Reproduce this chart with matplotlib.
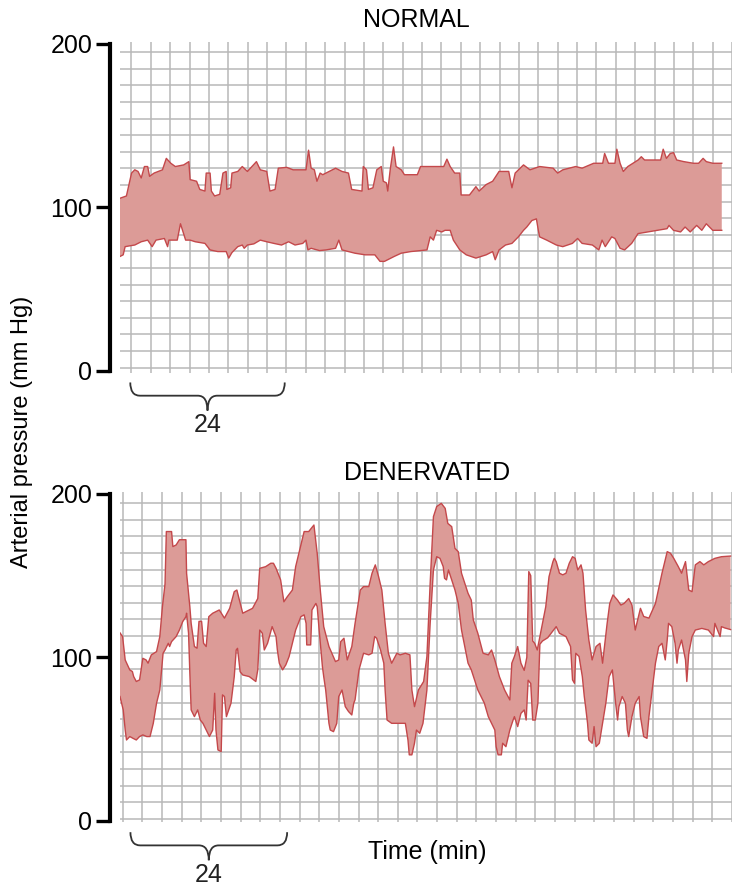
import numpy as np
import matplotlib
matplotlib.use("Agg")
import matplotlib.pyplot as plt
from matplotlib.path import Path
from matplotlib.patches import PathPatch
from matplotlib.transforms import blended_transform_factory

plt.rcParams["font.family"] = ["Liberation Sans", "DejaVu Sans"]

# --- traced envelopes (time in min, pressure in mm Hg) ---------------
normal_up_t = [0.0, 1.0, 1.8, 2.3, 2.8, 3.3, 3.8, 4.3, 4.6, 5.3, 6.6, 7.2, 7.9, 8.6, 9.9, 10.7,
               10.9, 11.9, 12.4, 13.2, 13.4, 14.0, 14.2, 14.7, 15.5, 16.0, 16.5, 16.6, 17.2, 17.4,
               18.3, 19.0, 19.8, 21.2, 21.8, 22.8, 23.3, 24.1, 24.6, 25.9, 26.9, 28.9, 29.3, 29.7,
               30.2, 30.6, 31.1, 31.5, 33.5, 34.5, 35.5, 36.0, 37.6, 37.8, 38.3, 38.6, 39.3, 39.9,
               40.6, 40.9, 41.4, 41.6, 42.0, 42.5, 42.9, 43.7, 44.2, 46.2, 46.7, 48.2, 50.3, 50.8,
               51.3, 52.0, 52.8, 53.0, 54.3, 55.3, 55.8, 56.9, 57.9, 58.9, 60.4, 60.9, 61.4, 62.7,
               63.7, 65.2, 67.3, 68.0, 68.8, 70.8, 71.8, 73.6, 75.0, 75.3, 75.9, 76.9, 77.2, 77.7,
               78.2, 78.9, 79.7, 80.5, 81.0, 81.5, 83.0, 84.0, 84.4, 84.9, 85.5, 86.0, 86.5, 87.6,
               89.1, 89.9, 90.6, 91.1, 92.1, 93.5]
normal_up_p = [105.6, 107, 121, 123, 122, 118, 125, 125, 119, 121, 123, 130, 127, 125, 126, 128,
               117, 116, 111, 110, 121, 121, 110, 107, 108, 121, 122, 111, 112, 121,
               122, 125, 122, 128, 123, 122, 110, 111, 124, 124.5, 123, 123, 135, 124,
               123, 116, 121, 120, 124, 122, 121, 111, 110, 125, 123, 111, 112, 123,
               125, 116, 115, 110, 123.5, 137, 125, 123, 120, 120, 125, 125, 125, 129.5,
               125, 121, 121, 107.6, 107.6, 112.7, 110, 114, 116, 122, 122, 112, 121, 126,
               123, 125, 124, 121, 123, 125, 124, 127, 127, 133, 127, 127, 135.6, 127,
               122, 125, 127, 129, 131, 129, 129, 129, 135.6, 130, 133, 133.5, 129, 128,
               127, 127, 130, 128, 127, 127]

normal_lo_t = [0.0, 0.5, 0.8, 1.5, 2.3, 3.3, 4.3, 5.0, 5.6, 6.9, 7.4, 7.6, 8.9, 9.4, 10.2, 10.9,
               11.7, 13.2, 14.0, 15.2, 16.5, 16.9, 17.4, 18.3, 19.0, 19.3, 19.8, 20.8, 21.8, 22.8,
               23.9, 25.1, 26.2, 27.2, 28.4, 28.9, 29.2, 29.7, 31.0, 32.0, 33.5, 34.0, 34.5, 36.5,
               38.1, 39.6, 40.4, 41.1, 42.6, 43.7, 45.2, 47.7, 48.2, 48.7, 49.2, 50.0, 50.5, 51.3,
               51.8, 52.8, 53.8, 55.3, 56.9, 57.9, 58.3, 58.9, 59.9, 60.9, 61.9, 62.7, 63.2, 64.0,
               64.7, 65.0, 65.2, 66.3, 67.8, 68.8, 70.3, 71.1, 71.8, 73.4, 74.4, 74.9, 75.4, 76.4,
               76.9, 77.7, 78.4, 79.5, 80.5, 82.0, 83.5, 85.0, 85.3, 86.0, 87.1, 87.8, 88.6, 89.6,
               90.4, 91.1, 92.1, 93.5]
normal_lo_p = [70, 71, 76, 76.5, 77, 79, 80, 76, 80, 81, 76, 80, 80, 90, 80, 80,
               79, 78, 74, 73, 73, 69, 72.4, 76, 77, 75, 77, 77.7, 80, 79,
               78, 77, 79, 77, 78, 80, 74, 75, 73.6, 74, 75, 80, 74, 72,
               71, 71, 67, 67, 70, 72, 73, 74, 82, 80, 86, 85, 86, 86,
               80, 74, 71, 69, 71, 73, 68, 74, 77, 78, 82, 86, 88, 92,
               93, 86, 82, 80, 77, 76, 78, 81, 78, 77, 74, 80, 76, 82,
               81, 75, 74, 78, 84, 85, 86, 87, 89, 86, 85, 88, 85, 89,
               86, 90, 86, 86]

denerv_up_t = [0.0, 0.4, 0.8, 1.5, 1.9, 2.1, 2.5, 3.0, 3.5, 4.0, 4.3, 4.8, 5.6, 6.1, 6.5, 6.9,
               7.1, 7.9, 8.1, 8.6, 9.1, 10.1, 10.2, 10.7, 10.9, 11.4, 11.8, 12.1, 12.5, 12.8,
               13.2, 13.6, 14.2, 15.2, 16.0, 16.8, 17.5, 17.9, 18.3, 18.8, 19.3, 20.3, 21.1, 21.4,
               22.3, 23.1, 23.5, 23.9, 24.6, 25.1, 25.6, 26.4, 26.9, 27.7, 28.2, 28.9, 29.7, 30.2,
               30.7, 31.2, 32.0, 33.0, 33.5, 33.8, 34.3, 34.8, 35.5, 36.0, 36.8, 37.3, 38.1, 38.6,
               39.1, 39.6, 40.1, 40.6, 41.1, 41.6, 42.4, 42.9, 43.7, 44.4, 44.7, 45.1, 45.7, 46.5,
               47.0, 47.5, 48.0, 48.5, 49.2, 49.8, 50.2, 50.8, 51.3, 51.8, 52.3, 53.3, 53.8, 54.1,
               54.8, 55.6, 56.4, 56.9, 57.4, 58.1, 58.9, 59.7, 60.0, 60.4, 60.9, 61.4, 61.9, 62.3,
               62.6, 62.9, 63.2, 63.5, 63.9, 64.3, 64.7, 65.2, 65.7, 66.3, 66.5, 66.8, 67.3, 67.8,
               68.3, 68.8, 69.3, 69.7, 70.1, 70.6, 70.9, 71.3, 71.8, 72.3, 72.9, 73.5, 73.9, 74.6,
               75.0, 75.5, 76.2, 76.7, 77.2, 77.9, 78.4, 78.9, 79.7, 80.2, 81.0, 82.0, 83.0, 83.8,
               84.3, 84.8, 85.5, 86.0, 86.6, 87.1, 87.6, 88.1, 88.8, 89.4, 90.1, 91.1, 92.1, 93.5]
denerv_up_p = [115, 112.7, 98.4, 92.3, 91.3, 88.2, 85.2, 86.2, 99.4, 98.4, 96.4, 101.5, 103.5, 112.7, 131, 145,
               177, 177, 167.8, 168.8, 172, 172, 151.5, 131, 120.8, 106.6, 105.6, 122, 122, 108.6,
               106.6, 124.9, 127, 129, 124, 130, 140.2, 141.2, 135, 127, 128, 130, 136, 154.5,
               155.5, 157.6, 157.6, 154.5, 147.4, 134, 137, 141.2, 155.5, 168.8, 177, 177, 181, 163.7,
               140, 118.8, 106.6, 97.4, 98.4, 109.6, 111.7, 98.4, 106.6, 120.8, 141.2, 143.3, 143.3, 151.5,
               156.6, 149.4, 141.2, 120.8, 102.5, 96.4, 102.5, 101.5, 102.5, 101.5, 80, 69.8, 80, 85.2,
               100.5, 145.3, 186.1, 192.3, 194.3, 191.2, 182, 180, 166.7, 164.7, 151.5, 139.2, 135, 123,
               114.7, 102.5, 101.5, 104.5, 98.4, 88.2, 80, 73.9, 96.4, 100.5, 106.6, 96.4, 92, 100,
               152.5, 150, 110, 108.6, 104.5, 112.7, 120.8, 131, 149.4, 158.6, 160.6, 158.6, 151.5, 150.5,
               151.5, 157.6, 161.6, 160.6, 153.5, 156.6, 151.5, 129, 110.6, 98.4, 106.6, 108.6, 96.4, 120.8,
               133, 138.2, 135, 132, 133, 136, 132, 116.7, 130, 125, 124, 133, 151.5, 164.7,
               163.7, 160.6, 155.5, 151.5, 158.6, 141.2, 140.2, 156.6, 158.6, 156.6, 158.6, 160.6, 161.6, 162]

denerv_lo_t = [0.0, 0.5, 0.8, 1.0, 1.5, 2.0, 2.5, 3.0, 3.5, 4.1, 4.6, 5.1, 5.6, 6.1, 6.6, 6.9,
               7.4, 7.6, 7.9, 8.6, 9.1, 9.6, 10.1, 10.2, 10.5, 10.7, 10.9, 11.4, 11.9, 12.3,
               12.7, 13.2, 13.7, 14.2, 14.5, 14.7, 15.0, 15.5, 15.7, 16.0, 16.3, 17.0, 17.5, 17.8,
               18.0, 18.4, 18.8, 19.8, 20.8, 21.1, 21.4, 21.8, 22.1, 22.6, 23.3, 23.9, 24.1, 24.4,
               24.9, 25.4, 25.9, 26.4, 26.9, 27.7, 28.2, 28.5, 28.6, 29.2, 29.4, 30.0, 30.2, 30.5,
               31.0, 31.2, 31.5, 32.0, 32.2, 32.7, 33.2, 33.5, 34.0, 34.5, 35.0, 35.5, 35.8, 36.0,
               36.6, 37.3, 38.1, 38.6, 39.0, 39.3, 39.9, 40.4, 40.6, 40.9, 41.6, 42.6, 43.7, 44.1,
               44.3, 44.7, 45.1, 45.4, 45.9, 46.4, 47.0, 47.5, 48.0, 48.5, 49.0, 49.5, 49.7, 50.0,
               50.3, 50.8, 51.3, 51.8, 52.3, 52.8, 53.3, 53.8, 54.3, 54.8, 55.3, 55.8, 56.4, 56.9,
               57.4, 57.6, 57.9, 58.4, 58.6, 59.1, 59.7, 60.2, 60.4, 60.9, 61.4, 61.9, 62.2, 62.5,
               62.9, 63.2, 63.6, 64.0, 64.3, 64.7, 65.5, 66.8, 67.3, 68.3, 69.0, 69.3, 69.6, 69.8,
               70.3, 70.8, 71.1, 71.3, 71.6, 71.8, 72.3, 72.6, 72.9, 73.4, 73.9, 74.4, 74.9, 75.4,
               75.9, 76.2, 76.4, 76.9, 77.4, 77.7, 77.9, 78.4, 78.9, 79.5, 79.7, 80.2, 80.7, 81.0,
               81.5, 82.0, 82.5, 83.0, 83.5, 83.8, 84.0, 84.5, 85.0, 85.3, 85.5, 86.0, 86.6, 86.8,
               87.1, 87.6, 88.1, 89.1, 90.1, 90.9, 91.1, 91.9, 92.1, 92.6, 93.5]
denerv_lo_p = [76, 67.8, 55.5, 49.4, 51.5, 50.4, 49.4, 51.5, 52.5, 51.5, 51.5, 59.6, 71.9, 80, 102.5, 104.5,
               108.6, 106.6, 109.6, 112.7, 116.7, 121.8, 124.9, 127, 114.7, 90.2, 67.8, 63.7, 67.8, 61.6,
               59.6, 55.5, 51.5, 55.5, 78, 55.5, 43.3, 42.3, 77, 76, 63.7, 71.9, 88.2, 104.5,
               105.5, 91.2, 89.2, 88.2, 85.2, 92.3, 116.7, 114.7, 104.5, 108.6, 118.8, 112.7, 104.5, 96.4,
               92.3, 95.4, 100.5, 108.6, 116.7, 124.9, 126, 120.8, 107.6, 107.6, 129, 133, 131, 116.7,
               94.3, 88.2, 80, 59.6, 55.5, 54.5, 59.6, 76, 80, 69.8, 66.8, 64.7, 71.9, 74,
               92.3, 102.5, 101.5, 102.5, 112.7, 111.7, 104.5, 96.4, 80, 61.6, 59.6, 59.6, 59.6, 49.4,
               40.3, 40.3, 47.4, 55.5, 53.5, 59.6, 80, 120.8, 153.5, 161.6, 160.6, 155.5, 148.4, 147.4,
               153.5, 147.4, 141.2, 133, 116.7, 106.6, 96.4, 92.3, 86.2, 80, 76, 71.9, 63.7, 59.6,
               55.5, 45.3, 40.3, 40.3, 47.4, 45.3, 55.5, 61.6, 63.7, 57.6, 65.7, 67.8, 61.6, 86,
               84, 61.6, 61.6, 72, 108, 110, 112, 118.8, 114.7, 112.7, 106.6, 86.2, 84.1, 102.5,
               100.5, 88.2, 76, 69.8, 59.6, 49.4, 47.4, 57.6, 45.3, 47.4, 59.6, 71.9, 88.2, 92.3,
               71.9, 61.6, 69.8, 76, 71.9, 55.5, 51.5, 63.7, 71.9, 76, 63.7, 51.5, 50.4, 63.7,
               80, 96.4, 106.6, 108.6, 98.4, 110.6, 120.8, 118.8, 108.6, 96.4, 104.5, 110.6, 98.4, 85.2,
               102.5, 112.7, 116.7, 117.7, 116.7, 112.7, 120.8, 112.7, 118.8, 118, 117]

FILL = "#dc9b97"
EDGE = "#c4484b"
GRID = "#b8b8b8"
T_MAX = 93.0
CELL = 3.01


def brace(ax, x0, width, label):
    # curly brace under the axis, x in minutes, y in axes fraction
    tr = blended_transform_factory(ax.transData, ax.transAxes)
    x1 = x0 + width
    xm = x0 + width / 2
    r = 1.5
    ye, yl, yt = -0.03, -0.07, -0.115
    verts = [(x0, ye), (x0, yl), (x0 + r, yl), (xm - r, yl), (xm, yl), (xm, yt),
             (xm, yl), (xm + r, yl), (x1 - r, yl), (x1, yl), (x1, ye)]
    codes = [Path.MOVETO, Path.CURVE3, Path.CURVE3, Path.LINETO, Path.CURVE3, Path.CURVE3,
             Path.CURVE3, Path.CURVE3, Path.LINETO, Path.CURVE3, Path.CURVE3]
    ax.add_patch(PathPatch(Path(verts, codes), transform=tr, fill=False,
                           edgecolor="#333333", lw=1.3, clip_on=False))
    ax.text(xm, -0.16, label, transform=tr, ha="center", va="center", fontsize=18, color="#222222")


def panel(ax, up_t, up_p, lo_t, lo_p, grid_x0, grid_y):
    ax.set_xlim(0, T_MAX)
    ax.set_ylim(-1, 201)
    ax.fill(np.concatenate([up_t, lo_t[::-1]]), np.concatenate([up_p, lo_p[::-1]]),
            color=FILL, lw=0, zorder=2)
    ax.plot(up_t, up_p, color=EDGE, lw=1.0, zorder=3, solid_joinstyle="round")
    ax.plot(lo_t, lo_p, color=EDGE, lw=1.0, zorder=3, solid_joinstyle="round")

    # chart-paper grid
    ax.set_xticks([])
    ax.set_xticks(grid_x0 + CELL * np.arange(32), minor=True)
    ax.set_yticks([0, 100, 200])
    ax.set_yticks(grid_y, minor=True)
    ax.grid(which="minor", color=GRID, lw=1.1)
    ax.set_axisbelow(True)
    ax.tick_params(which="minor", length=0)
    ax.tick_params(axis="y", which="major", length=10, width=2.4, pad=3, labelsize=18)

    for s in ["top", "right", "bottom"]:
        ax.spines[s].set_visible(False)
    ax.spines["left"].set_position(("outward", 7))
    ax.spines["left"].set_bounds(0, 200)
    ax.spines["left"].set_linewidth(3)
    brace(ax, 1.6, 24, "24")


fig = plt.figure(figsize=(7.32, 8.86), dpi=100)
ax1 = fig.add_axes([0.1639, 0.5795, 0.8361, 0.3728])
ax2 = fig.add_axes([0.1639, 0.0719, 0.8361, 0.3724])

panel(ax1, np.array(normal_up_t), np.array(normal_up_p), np.array(normal_lo_t), np.array(normal_lo_p),
      1.78, np.linspace(2, 195, 20))
panel(ax2, np.array(denerv_up_t), np.array(denerv_up_p), np.array(denerv_lo_t), np.array(denerv_lo_p),
      0.41, np.linspace(1, 194.5, 20))

ax1.text(0.4845, 1.0675, "NORMAL", transform=ax1.transAxes, ha="center", va="center", fontsize=18)
ax2.text(0.5025, 1.0588, "DENERVATED", transform=ax2.transAxes, ha="center", va="center", fontsize=18)
ax2.text(0.502, -0.09, "Time (min)", transform=ax2.transAxes, ha="center", va="center", fontsize=18)
fig.text(0.030, 0.5124, "Arterial pressure (mm Hg)", rotation=90, ha="center", va="center", fontsize=17)

fig.savefig("out.png", dpi=100)
